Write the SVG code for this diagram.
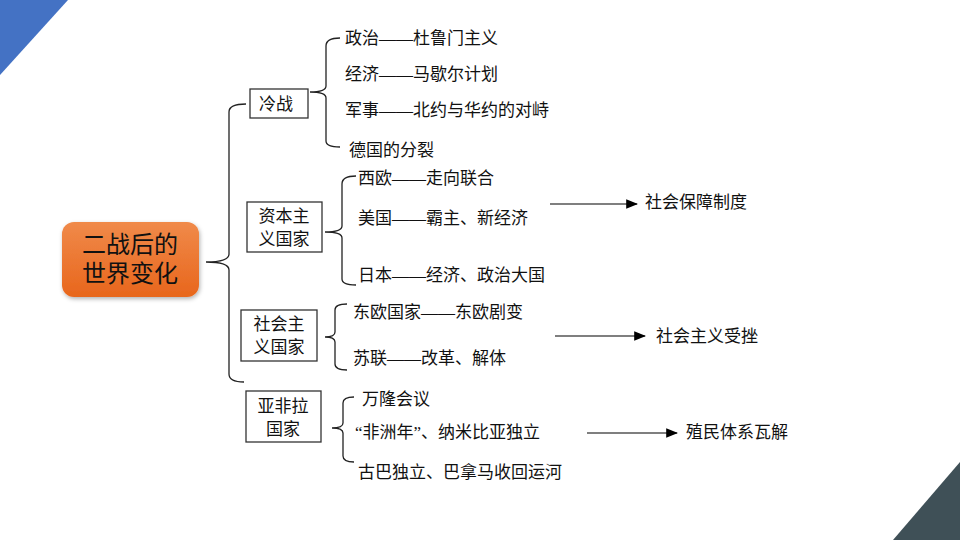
<svg xmlns="http://www.w3.org/2000/svg" width="960" height="540" viewBox="0 0 960 540">
<defs>
<linearGradient id="og" x1="0" y1="0" x2="0" y2="1"><stop offset="0" stop-color="#f08a4a"/><stop offset="1" stop-color="#e8661c"/></linearGradient>
<marker id="ar" markerWidth="10" markerHeight="8" refX="9" refY="4" orient="auto"><path d="M0,0 L10,4 L0,8 z" fill="#000"/></marker>
<filter id="sh" x="-10%" y="-10%" width="130%" height="130%"><feDropShadow dx="1" dy="2" stdDeviation="2" flood-opacity="0.3"/></filter>
</defs>
<style>
text{font-family:"Liberation Serif","Noto Sans CJK SC",serif;font-size:17px;fill:#111}
.b{fill:#fff;stroke:#333;stroke-width:1.3}
.br{fill:none;stroke:#222;stroke-width:1.3}
.c{text-anchor:middle}
</style>
<rect width="960" height="540" fill="#fff"/>
<polygon points="0,0 68,0 0,75" fill="#4472c4"/>
<polygon points="960,462 960,540 893,540" fill="#3f5057"/>
<g id="connectors">
<path class="br" d="M246,104 Q229,104 229,112 L229,254 Q229,262 206,262 Q229,262 229,270 L229,374 Q229,382 244,382"/>
<path class="br" d="M340,38 Q326,38 326,46 L326,86 Q326,92 310,92 Q326,92 326,98 L326,141 Q326,147 340,147"/>
<path class="br" d="M356,176 Q342,176 342,184 L342,226 Q342,232 325,232 Q342,232 342,238 L342,279 Q342,285 356,285"/>
<path class="br" d="M347,304 Q335,304 335,310 L335,332 Q335,337 325,337 Q335,337 335,342 L335,364 Q335,370 347,370"/>
<path class="br" d="M354,397 Q343,397 343,403 L343,423 Q343,428 332,428 Q343,428 343,433 L343,456 Q343,462 354,462"/>
<line x1="550" y1="204" x2="637" y2="204" stroke="#000" stroke-width="1.2" marker-end="url(#ar)"/>
<line x1="555" y1="336" x2="645" y2="336" stroke="#000" stroke-width="1.2" marker-end="url(#ar)"/>
<line x1="587" y1="433" x2="677" y2="433" stroke="#000" stroke-width="1.2" marker-end="url(#ar)"/>
</g>
<g id="root"><rect x="62" y="222" width="137" height="75" rx="12" fill="url(#og)" filter="url(#sh)"/>
<text x="130" y="253" class="c" style="font-family:'Liberation Sans','Noto Sans CJK SC',sans-serif;font-size:24px">二战后的</text>
<text x="130" y="282" class="c" style="font-family:'Liberation Sans','Noto Sans CJK SC',sans-serif;font-size:24px">世界变化</text></g>
<g id="lengzhan"><rect class="b" x="250" y="89" width="58" height="29"/><text x="276" y="110" class="c">冷战</text></g>
<g id="ziben"><rect class="b" x="247" y="202" width="75" height="50"/><text x="284" y="222" class="c">资本主</text><text x="284" y="245" class="c">义国家</text></g>
<g id="shehui"><rect class="b" x="241" y="310" width="76" height="51"/><text x="279" y="330" class="c">社会主</text><text x="279" y="353" class="c">义国家</text></g>
<g id="yafeila"><rect class="b" x="246" y="391" width="75" height="51"/><text x="283" y="412" class="c">亚非拉</text><text x="283" y="435" class="c">国家</text></g>
<g id="cold-items">
<text x="345" y="44">政治——杜鲁门主义</text>
<text x="345" y="80">经济——马歇尔计划</text>
<text x="345" y="116">军事——北约与华约的对峙</text>
<text x="349" y="156">德国的分裂</text>
</g>
<g id="cap-items">
<text x="358" y="184">西欧——走向联合</text>
<text x="358" y="224">美国——霸主、新经济</text>
<text x="358" y="281">日本——经济、政治大国</text>
<text x="645" y="208">社会保障制度</text>
</g>
<g id="soc-items">
<text x="353" y="318">东欧国家——东欧剧变</text>
<text x="353" y="364">苏联——改革、解体</text>
<text x="656" y="342">社会主义受挫</text>
</g>
<g id="afr-items">
<text x="362" y="405">万隆会议</text>
<text x="355" y="438">“非洲年”、纳米比亚独立</text>
<text x="358" y="478">古巴独立、巴拿马收回运河</text>
<text x="686" y="438">殖民体系瓦解</text>
</g>
</svg>
